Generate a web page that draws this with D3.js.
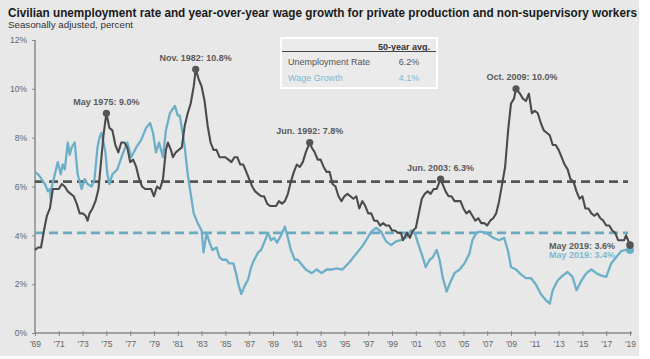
<!DOCTYPE html>
<html>
<head>
<meta charset="utf-8">
<script src="https://cdn.jsdelivr.net/npm/d3@7"></script>
<style>
  body { margin: 0; background: #ffffff; }
  svg { font-family: "Liberation Sans", Arial, sans-serif; }
  .axis path, .axis line { stroke: #8a8a8a; }
  .axis text { fill: #666666; font-size: 8.5px; }
</style>
</head>
<body>
<div id="chart"></div>
<script>
// monthly unemployment rate, %
var unemployment = [
  ["1969-05",3.4],["1969-08",3.5],["1969-11",3.5],["1970-02",4.2],["1970-05",4.8],["1970-08",5.1],["1970-11",5.9],
  ["1971-02",5.9],["1971-05",5.9],["1971-08",6.1],["1971-11",6.0],["1972-02",5.8],["1972-05",5.7],["1972-08",5.6],["1972-11",5.3],
  ["1973-02",4.9],["1973-05",4.9],["1973-08",4.8],["1973-10",4.6],["1973-12",4.9],["1974-03",5.1],["1974-06",5.4],["1974-09",5.9],["1974-12",7.2],
  ["1975-02",8.1],["1975-05",9.0],["1975-08",8.4],["1975-11",8.3],["1976-02",7.7],["1976-05",7.4],["1976-08",7.8],["1976-11",7.8],
  ["1977-02",7.6],["1977-05",7.0],["1977-08",7.1],["1977-11",6.8],["1978-02",6.3],["1978-05",6.0],["1978-08",5.9],["1978-11",5.9],
  ["1979-02",5.9],["1979-05",5.6],["1979-08",6.0],["1979-11",5.9],["1980-02",6.3],["1980-05",7.5],["1980-07",7.8],["1980-10",7.5],["1980-12",7.2],
  ["1981-03",7.4],["1981-06",7.5],["1981-09",7.6],["1981-12",8.5],["1982-03",9.0],["1982-06",9.4],["1982-09",10.1],["1982-11",10.8],
  ["1983-02",10.4],["1983-05",10.1],["1983-08",9.5],["1983-11",8.5],["1984-02",7.8],["1984-05",7.5],["1984-08",7.5],["1984-11",7.2],
  ["1985-02",7.2],["1985-05",7.2],["1985-08",7.1],["1985-11",7.0],["1986-02",7.2],["1986-05",7.2],["1986-08",6.9],["1986-11",6.9],
  ["1987-02",6.6],["1987-05",6.3],["1987-08",6.0],["1987-11",5.8],["1988-02",5.7],["1988-05",5.6],["1988-08",5.6],["1988-11",5.3],
  ["1989-02",5.2],["1989-05",5.2],["1989-08",5.2],["1989-11",5.4],["1990-02",5.3],["1990-05",5.4],["1990-08",5.7],["1990-11",6.2],
  ["1991-02",6.6],["1991-05",6.9],["1991-08",6.8],["1991-11",7.0],["1992-02",7.4],["1992-06",7.8],["1992-08",7.6],["1992-11",7.4],
  ["1993-02",7.1],["1993-05",7.1],["1993-08",6.8],["1993-11",6.6],["1994-02",6.6],["1994-05",6.1],["1994-08",6.0],["1994-11",5.6],
  ["1995-02",5.4],["1995-05",5.6],["1995-08",5.7],["1995-11",5.6],["1996-02",5.5],["1996-05",5.6],["1996-08",5.1],["1996-11",5.4],
  ["1997-02",5.2],["1997-05",4.9],["1997-08",4.9],["1997-11",4.6],["1998-02",4.6],["1998-05",4.4],["1998-08",4.5],["1998-11",4.4],
  ["1999-02",4.4],["1999-05",4.2],["1999-08",4.2],["1999-11",4.1],["2000-02",4.1],["2000-04",3.8],["2000-08",4.1],["2000-11",3.9],
  ["2001-02",4.2],["2001-05",4.3],["2001-08",4.9],["2001-11",5.5],["2002-02",5.7],["2002-05",5.8],["2002-08",5.7],["2002-11",5.9],
  ["2003-02",5.9],["2003-06",6.3],["2003-08",6.1],["2003-11",5.8],["2004-02",5.6],["2004-05",5.6],["2004-08",5.4],["2004-11",5.4],
  ["2005-02",5.4],["2005-05",5.1],["2005-08",4.9],["2005-11",5.0],["2006-02",4.8],["2006-05",4.6],["2006-08",4.7],["2006-11",4.5],
  ["2007-02",4.5],["2007-05",4.4],["2007-08",4.6],["2007-11",4.7],["2008-02",4.9],["2008-05",5.4],["2008-08",6.1],["2008-11",6.8],
  ["2009-02",8.3],["2009-05",9.4],["2009-08",9.6],["2009-10",10.0],["2010-02",9.8],["2010-05",9.6],["2010-08",9.5],["2010-11",9.8],
  ["2011-02",9.0],["2011-05",9.1],["2011-08",9.0],["2011-11",8.6],["2012-02",8.3],["2012-05",8.2],["2012-08",8.1],["2012-11",7.7],
  ["2013-02",7.7],["2013-05",7.5],["2013-08",7.2],["2013-11",6.9],["2014-02",6.7],["2014-05",6.3],["2014-08",6.2],["2014-11",5.8],
  ["2015-02",5.5],["2015-05",5.6],["2015-08",5.1],["2015-11",5.1],["2016-02",4.9],["2016-05",4.8],["2016-08",4.9],["2016-11",4.7],
  ["2017-02",4.6],["2017-05",4.4],["2017-08",4.4],["2017-11",4.2],["2018-02",4.1],["2018-05",3.8],["2018-08",3.8],["2018-11",3.8],
  ["2019-01",4.0],["2019-03",3.8],["2019-05",3.6]
];

// year-over-year wage growth, %
var wageGrowth = [
  ["1969-05",6.6],["1969-08",6.5],["1969-10",6.4],["1970-01",6.2],["1970-03",6.1],["1970-06",5.8],["1970-08",5.9],["1970-09",5.4],["1970-10",6.0],
  ["1971-01",6.5],["1971-04",7.0],["1971-07",6.5],["1971-09",6.9],["1971-11",6.7],["1972-02",7.8],["1972-04",7.3],["1972-06",7.6],["1972-09",7.8],["1972-12",6.5],
  ["1973-02",6.2],["1973-04",5.9],["1973-07",6.3],["1973-10",6.1],["1974-02",6.0],["1974-05",6.3],["1974-08",7.6],["1974-10",8.0],["1974-12",8.2],
  ["1975-02",7.8],["1975-04",7.4],["1975-06",6.5],["1975-08",6.1],["1975-11",6.5],["1976-04",6.7],["1976-09",7.3],["1977-02",7.8],["1977-06",7.2],["1977-11",7.6],
  ["1978-04",7.9],["1978-09",8.4],["1979-01",8.6],["1979-04",8.2],["1979-07",7.4],["1979-10",7.8],["1980-02",7.2],["1980-05",8.3],["1980-09",9.0],
  ["1981-02",9.3],["1981-05",8.9],["1981-07",8.9],["1981-09",8.4],["1981-12",7.6],["1982-03",6.5],["1982-06",5.7],["1982-09",4.9],
  ["1983-01",4.5],["1983-05",4.2],["1983-07",3.3],["1983-10",4.1],["1984-01",3.7],["1984-04",3.4],["1984-08",3.5],["1984-11",3.1],
  ["1985-02",3.0],["1985-06",3.0],["1985-09",2.85],["1986-01",2.85],["1986-04",2.4],["1986-06",2.0],["1986-09",1.6],["1986-12",1.9],
  ["1987-04",2.2],["1987-07",2.7],["1987-10",3.0],["1988-02",3.3],["1988-05",3.4],["1988-08",3.7],["1988-12",4.1],
  ["1989-03",3.8],["1989-06",3.9],["1989-09",3.7],["1990-01",4.0],["1990-05",4.35],["1990-08",3.9],["1990-11",3.4],
  ["1991-03",3.0],["1991-06",3.0],["1991-09",2.85],["1992-02",2.6],["1992-08",2.45],["1993-01",2.6],["1993-06",2.45],["1993-11",2.6],
  ["1994-05",2.6],["1994-09",2.65],["1995-03",2.6],["1995-10",2.9],["1996-05",3.25],["1996-10",3.5],["1997-03",3.8],["1997-08",4.15],
  ["1998-01",4.3],["1998-06",4.15],["1998-11",3.75],["1999-04",3.6],["1999-09",3.75],["2000-02",3.8],["2000-07",3.9],["2000-12",4.2],
  ["2001-04",4.1],["2001-07",3.7],["2001-12",3.1],["2002-03",2.7],["2002-07",3.0],["2002-10",3.1],["2003-02",3.4],["2003-05",3.0],
  ["2003-08",2.3],["2003-12",1.7],["2004-04",2.1],["2004-08",2.45],["2005-01",2.6],["2005-06",2.85],["2005-11",3.25],
  ["2006-02",3.8],["2006-06",4.1],["2006-10",4.15],["2007-04",4.1],["2007-11",3.9],["2008-05",3.8],["2008-10",3.9],
  ["2009-02",3.35],["2009-05",2.7],["2009-10",2.6],["2010-03",2.4],["2010-08",2.25],["2011-01",2.25],["2011-06",2.0],["2011-11",1.6],
  ["2012-04",1.35],["2012-08",1.2],["2012-11",1.75],["2013-04",2.15],["2013-09",2.35],["2014-02",2.5],["2014-07",2.3],["2014-11",1.75],
  ["2015-04",2.15],["2015-09",2.45],["2016-02",2.6],["2016-07",2.45],["2016-12",2.35],["2017-05",2.3],["2017-10",2.85],
  ["2018-03",3.1],["2018-08",3.35],["2018-12",3.4],["2019-05",3.4]
];

var averages = [
  {name: "Unemployment Rate", value: 6.2},
  {name: "Wage Growth", value: 4.1}
];

var peaks = [
  {date: "1975-05", value: 9.0, label: "May 1975: 9.0%"},
  {date: "1982-11", value: 10.8, label: "Nov. 1982: 10.8%"},
  {date: "1992-06", value: 7.8, label: "Jun. 1992: 7.8%"},
  {date: "2003-06", value: 6.3, label: "Jun. 2003: 6.3%"},
  {date: "2009-10", value: 10.0, label: "Oct. 2009: 10.0%"}
];

var yTicks = [0, 2, 4, 6, 8, 10, 12];
var xTickYears = d3.range(1969, 2020, 2);

var darkColor = "#4b4b4b", blueColor = "#6cafc8";
var parseMonth = d3.timeParse("%Y-%m");

var svg = d3.select("#chart").append("svg")
  .attr("width", 650)
  .attr("height", 359);

svg.append("rect")
  .attr("x", 0).attr("y", 0)
  .attr("width", 639).attr("height", 356)
  .attr("fill", "#e8e8e8");

svg.append("text")
  .attr("x", 8).attr("y", 17)
  .attr("textLength", 629)
  .attr("lengthAdjust", "spacingAndGlyphs")
  .style("font-size", "12px")
  .style("font-weight", "bold")
  .style("fill", "#1a1a1a")
  .text("Civilian unemployment rate and year-over-year wage growth for private production and non-supervisory workers");

svg.append("text")
  .attr("x", 8).attr("y", 28)
  .attr("textLength", 125)
  .attr("lengthAdjust", "spacingAndGlyphs")
  .style("font-size", "9.5px")
  .style("fill", "#333")
  .text("Seasonally adjusted, percent");

var x = d3.scaleTime()
  .domain([parseMonth("1969-05"), parseMonth("2019-05")])
  .range([35, 630]);

var y = d3.scaleLinear()
  .domain([0, 12])
  .range([333, 40]);

// axes
var yAxis = svg.append("g")
  .attr("class", "axis")
  .attr("transform", "translate(35,0)")
  .call(d3.axisLeft(y).tickValues(yTicks).tickSize(3).tickPadding(5).tickFormat(function(d){ return d + "%"; }));
yAxis.select(".domain").attr("d", "M0," + y(12) + "V" + y(0)).style("stroke-width", "1.5px");

var xAxis = svg.append("g")
  .attr("class", "axis")
  .attr("transform", "translate(0,333)")
  .call(d3.axisBottom(x)
    .tickValues(xTickYears.map(function(yr){ return parseMonth(yr + "-05"); }))
    .tickSize(3).tickPadding(5)
    .tickFormat(function(d){ return "'" + String(d.getFullYear()).slice(2); }));
xAxis.select(".domain").attr("d", "M35,0H632").style("stroke-width", "1.5px");
xAxis.selectAll(".tick line").attr("y1", -2);
xAxis.selectAll(".tick text").style("font-size", "8.5px");

// 50-year averages
svg.selectAll(".avgLine")
  .data(averages)
  .enter().append("line")
  .attr("class", "avgLine")
  .attr("x1", 35).attr("x2", 628)
  .attr("y1", function(d){ return y(d.value); })
  .attr("y2", function(d){ return y(d.value); })
  .style("stroke", function(d, i){ return i == 0 ? "#555555" : "#6aa9c2"; })
  .style("stroke-width", "2.6px")
  .style("stroke-dasharray", "9,5");

var line = d3.line()
  .x(function(d){ return x(parseMonth(d[0])); })
  .y(function(d){ return y(d[1]); });

svg.append("path")
  .datum(wageGrowth)
  .attr("d", line)
  .attr("fill", "none")
  .style("stroke", blueColor)
  .style("stroke-width", "2.3px")
  .style("stroke-linejoin", "round");

svg.append("path")
  .datum(unemployment)
  .attr("d", line)
  .attr("fill", "none")
  .style("stroke", darkColor)
  .style("stroke-width", "2.1px")
  .style("stroke-linejoin", "round");

// peak labels
var peakGroup = svg.selectAll(".peak")
  .data(peaks)
  .enter().append("g")
  .attr("class", "peak");

peakGroup.append("circle")
  .attr("cx", function(d){ return x(parseMonth(d.date)); })
  .attr("cy", function(d){ return y(d.value); })
  .attr("r", 3.6)
  .style("fill", "#555555");

peakGroup.append("text")
  .attr("x", function(d, i){ return x(parseMonth(d.date)) + (i == 4 ? 6 : 0); })
  .attr("y", function(d){ return y(d.value) - 8.5; })
  .style("text-anchor", "middle")
  .style("font-size", "9px")
  .style("font-weight", "bold")
  .style("fill", "#5a5a5a")
  .text(function(d){ return d.label; });

// latest values
var lastU = unemployment[unemployment.length - 1];
var lastW = wageGrowth[wageGrowth.length - 1];

svg.append("circle")
  .attr("cx", x(parseMonth(lastW[0]))).attr("cy", y(lastW[1]))
  .attr("r", 4).style("fill", blueColor);
svg.append("circle")
  .attr("cx", x(parseMonth(lastU[0]))).attr("cy", y(lastU[1]))
  .attr("r", 3.8).style("fill", "#555555");

svg.append("text")
  .attr("x", x(parseMonth(lastU[0])) - 15)
  .attr("y", y(lastU[1]) + 3.5)
  .style("text-anchor", "end")
  .style("font-size", "9px")
  .style("font-weight", "bold")
  .style("fill", "#5a5a5a")
  .text("May 2019: " + lastU[1].toFixed(1) + "%");

svg.append("text")
  .attr("x", x(parseMonth(lastU[0])) - 15)
  .attr("y", y(lastW[1]) + 8.5)
  .style("text-anchor", "end")
  .style("font-size", "9px")
  .style("font-weight", "bold")
  .style("fill", "#7dbad1")
  .text("May 2019: " + lastW[1].toFixed(1) + "%");

// averages box
var box = svg.append("g").attr("class", "avgBox");

box.append("rect")
  .attr("x", 281).attr("y", 38)
  .attr("width", 156).attr("height", 50)
  .style("fill", "#ebebeb")
  .style("stroke", "#ffffff")
  .style("stroke-width", "2px");

box.append("text")
  .attr("x", 430).attr("y", 49.5)
  .style("text-anchor", "end")
  .style("font-size", "9px")
  .style("font-weight", "bold")
  .style("fill", "#333")
  .text("50-year avg.");

box.append("line")
  .attr("x1", 282).attr("x2", 436)
  .attr("y1", 51.5).attr("y2", 51.5)
  .style("stroke", "#444")
  .style("stroke-width", "1px");

box.selectAll(".avgName")
  .data(averages)
  .enter().append("text")
  .attr("class", "avgName")
  .attr("x", 288)
  .attr("y", function(d, i){ return 64.5 + i * 16; })
  .style("font-size", "9px")
  .style("fill", function(d, i){ return i == 0 ? "#555" : "#7dbad1"; })
  .text(function(d){ return d.name; });

box.selectAll(".avgValue")
  .data(averages)
  .enter().append("text")
  .attr("class", "avgValue")
  .attr("x", 409)
  .attr("y", function(d, i){ return 64.5 + i * 16; })
  .style("text-anchor", "middle")
  .style("font-size", "9px")
  .style("fill", function(d, i){ return i == 0 ? "#555" : "#7dbad1"; })
  .text(function(d){ return d.value.toFixed(1) + "%"; });
</script>
</body>
</html>
